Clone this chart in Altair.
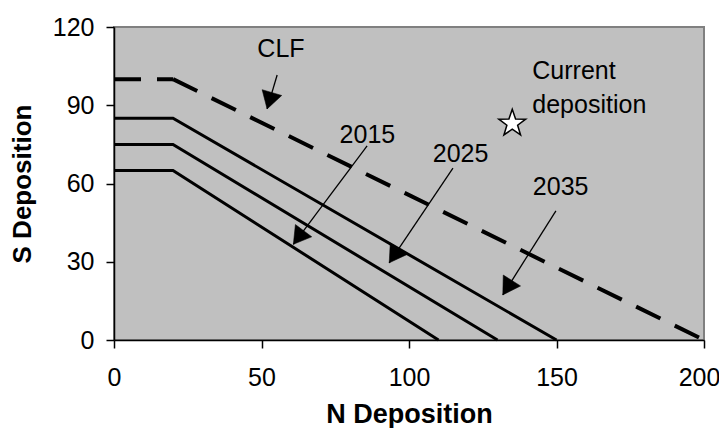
import math
import altair as alt
import pandas as pd

# ---------------- data ----------------
line_names = ["CLF", "2035", "2025", "2015"]
plateau_y = [100, 85, 75, 65]
kink_x = [20, 20, 20, 20]
zero_x = [200, 150, 130, 110]

star_x = [135]
star_y = [83]

center_text = ["CLF", "2015", "2025", "2035"]
center_x = [56.6, 85.9, 117.5, 151.4]
center_y = [108.5, 75.5, 68.2, 55.6]

left_text = ["Current", "deposition"]
left_x = [141.8, 141.8]
left_y = [100.1, 87.0]

arrow_x0 = [55.3, 85.8, 114.9, 149.8]
arrow_y0 = [101.6, 74.4, 65.9, 49.5]
arrow_x1 = [51.9, 60.8, 93.3, 131.8]
arrow_y1 = [88.6, 36.7, 29.6, 17.3]

x_ticks = [0, 50, 100, 150, 200]
y_ticks = [0, 30, 60, 90, 120]

# ---------------- layout ----------------
W, H = 590, 313
FONT = "Liberation Sans"
FS = 25

rows = []
for name, py, kx, zx in zip(line_names, plateau_y, kink_x, zero_x):
    rows.append({"series": name, "seg": name + "a", "o": 0, "x": 0, "y": py})
    rows.append({"series": name, "seg": name + "a", "o": 1, "x": kx, "y": py})
    rows.append({"series": name, "seg": name + "b", "o": 2, "x": kx, "y": py})
    rows.append({"series": name, "seg": name + "b", "o": 3, "x": zx, "y": 0})
lines_df = pd.DataFrame(rows)

px_x = W / 200.0
px_y = H / 120.0
arrows_df = pd.DataFrame({"x": arrow_x0, "y": arrow_y0, "x2": arrow_x1, "y2": arrow_y1})
arrows_df["angle"] = [
    (math.degrees(math.atan2((b - a) * px_x, (d - c) * px_y)) + 360) % 360
    for a, b, c, d in zip(arrow_x0, arrow_x1, arrow_y0, arrow_y1)
]

xscale = alt.Scale(domain=[0, 200], nice=False, zero=False)
yscale = alt.Scale(domain=[0, 120], nice=False, zero=False)
xaxis = alt.Axis(values=x_ticks, title="N Deposition", zindex=1, labelPadding=17,
                 labelOffset={"condition": {"test": "datum.value >= 200", "value": -5}, "value": 0},
                 titleY=82, titleBaseline="alphabetic", titleFontSize=27)
yaxis = alt.Axis(values=y_ticks, title="S Deposition", zindex=1, labelPadding=12,
                 titleX=-84, titleAngle=270, titleBaseline="alphabetic", titleFontSize=26)

X = lambda f: alt.X(f, type="quantitative", scale=xscale, axis=xaxis, title="N Deposition")
Y = lambda f: alt.Y(f, type="quantitative", scale=yscale, axis=yaxis, title="S Deposition")

clf = alt.Chart(lines_df[lines_df.series == "CLF"]).mark_line(
    color="black", strokeWidth=4, strokeDash=[27, 16], strokeCap="butt"
).encode(x=X("x"), y=Y("y"), detail="seg:N", order="o:Q")

solid = alt.Chart(lines_df[lines_df.series != "CLF"]).mark_line(
    color="black", strokeWidth=3
).encode(x=X("x"), y=Y("y"), detail="series:N", order="o:Q")

arrow_lines = alt.Chart(arrows_df).mark_rule(color="black", strokeWidth=1.3).encode(
    x=X("x"), y=Y("y"), x2="x2", y2="y2"
)

arrow_heads = alt.Chart(arrows_df).mark_point(
    shape="M0,0 L-0.6,1 L0.6,1 Z", filled=True, fill="black", stroke="black",
    strokeWidth=0.5, size=1156, opacity=1
).encode(x=X("x2"), y=Y("y2"), angle=alt.Angle("angle:Q", scale=None))

star_df = pd.DataFrame({"x": star_x, "y": star_y})
star_path = ("M0,-1 L0.235,-0.324 L0.951,-0.309 L0.380,0.124 L0.588,0.809 "
             "L0,0.4 L-0.588,0.809 L-0.380,0.124 L-0.951,-0.309 L-0.235,-0.324 Z")
star = alt.Chart(star_df).mark_point(
    shape=star_path, filled=True, fill="white", stroke="black", strokeWidth=1.5,
    size=800, opacity=1
).encode(x=X("x"), y=Y("y"))

ctext = alt.Chart(pd.DataFrame({"x": center_x, "y": center_y, "t": center_text})).mark_text(
    font=FONT, fontSize=FS, color="black", align="center", baseline="alphabetic"
).encode(x=X("x"), y=Y("y"), text="t:N")

ltext = alt.Chart(pd.DataFrame({"x": left_x, "y": left_y, "t": left_text})).mark_text(
    font=FONT, fontSize=FS, color="black", align="left", baseline="alphabetic"
).encode(x=X("x"), y=Y("y"), text="t:N")

chart = alt.layer(clf, solid, arrow_lines, arrow_heads, star, ctext, ltext).properties(
    width=W, height=H,
    padding={"left": 106, "top": 19, "right": 15, "bottom": 88},
    autosize=alt.AutoSizeParams(type="none"),
    background="white",
).configure_view(
    fill="#C0C0C0", stroke="#808080", strokeWidth=2
).configure_axis(
    labelFont=FONT, labelFontSize=FS, labelColor="black",
    titleFont=FONT, titleFontWeight="bold", titleColor="black",
    domainColor="black", domainWidth=1.5, tickColor="black", tickWidth=1.5,
    tickSize=8, grid=False, labelFlush=False
)

chart.save("out.html", embed_options={"renderer": "svg", "actions": False})
